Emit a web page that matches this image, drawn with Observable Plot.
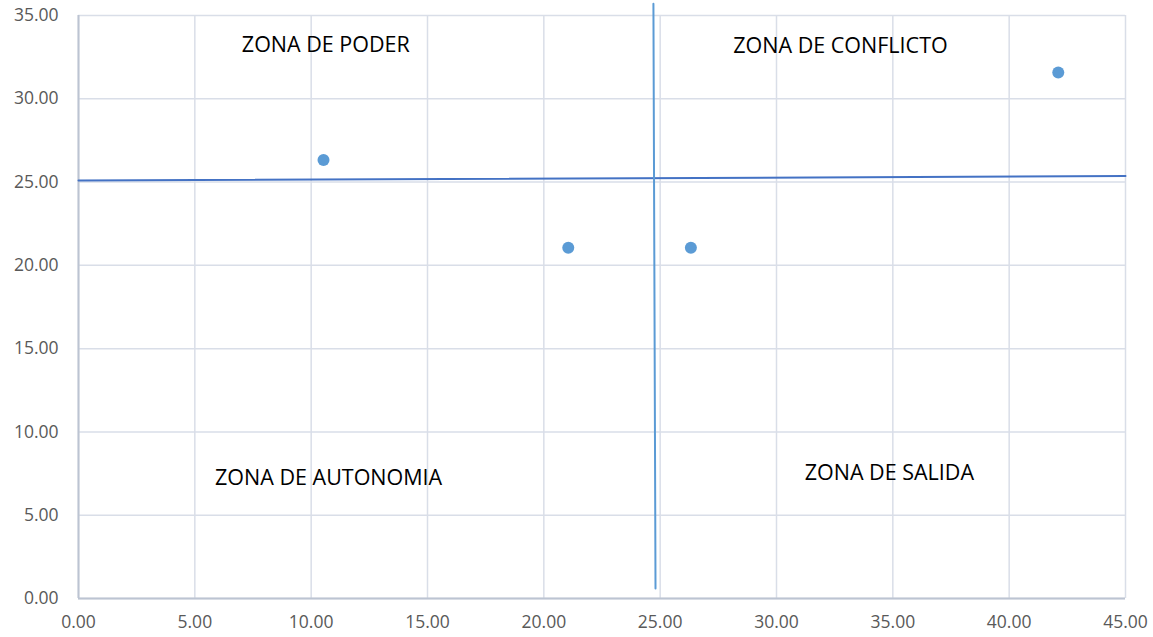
<!DOCTYPE html>
<html><head><meta charset="utf-8">
<script src="https://cdn.jsdelivr.net/npm/d3@7"></script>
<script src="https://cdn.jsdelivr.net/npm/@observablehq/plot@0.6"></script>
<style>body{margin:0;background:#fff}</style>
</head><body><div id="chart"></div>
<script>
const xs = [10.53, 21.05, 26.32, 42.11];
const ys = [26.32, 21.05, 21.05, 31.58];
const hLineX = [0, 45];
const hLineY = [25.09, 25.36];
const vLineX = [24.71, 24.80];
const vLineY = [35.7, 0.6];
const zoneLabels = ["ZONA DE PODER", "ZONA DE CONFLICTO", "ZONA DE AUTONOMIA", "ZONA DE SALIDA"];
const zoneX = [10.63, 32.75, 10.75, 34.85];
const zoneY = [33.25, 33.15, 7.2, 7.5];
const xTicks = [0,5,10,15,20,25,30,35,40,45];
const yTicks = [0,5,10,15,20,25,30,35];

const pts = xs.map((x,i)=>({x, y: ys[i]}));
const hl = hLineX.map((x,i)=>({x, y: hLineY[i]}));
const vl = vLineX.map((x,i)=>({x, y: vLineY[i]}));
const zones = zoneLabels.map((t,i)=>({t, x: zoneX[i], y: zoneY[i]}));
const fmt = d3.format(".2f");

const chart = Plot.plot({
  width: 1153, height: 637,
  marginLeft: 78, marginRight: 28, marginTop: 15, marginBottom: 39,
  style: {fontFamily: "'Open Sans', sans-serif", fontSize: "17px", color: "#595959", background: "#fff"},
  x: {domain: [0,45], label: null},
  y: {domain: [0,35], label: null},
  marks: [
    Plot.gridX(xTicks, {stroke: "#D9DEE8", strokeOpacity: 1, strokeWidth: 1.5}),
    Plot.gridY(yTicks, {stroke: "#D9DEE8", strokeOpacity: 1, strokeWidth: 1.5}),
    Plot.axisX(xTicks, {tickSize: 0, tickPadding: 17, tickFormat: fmt, fontSize: 17.5, fill: "#595959", label: null}),
    Plot.axisY(yTicks, {tickSize: 0, tickPadding: 20, tickFormat: fmt, fontSize: 17.5, fill: "#595959", label: null}),
    Plot.ruleY([0], {stroke: "#BCC4D2", strokeWidth: 2}),
    Plot.ruleX([0], {stroke: "#BCC4D2", strokeWidth: 2}),
    Plot.line(hl, {x: "x", y: "y", stroke: "#4472C4", strokeWidth: 2}),
    Plot.line(vl, {x: "x", y: "y", stroke: "#5B9BD5", strokeWidth: 2}),
    Plot.dot(pts, {x: "x", y: "y", r: 6, fill: "#5B9BD5", stroke: "none"}),
    Plot.text(zones, {x: "x", y: "y", text: "t", fontSize: 21.5, fill: "#000", fontFamily: "'Open Sans', sans-serif"})
  ]
});
document.getElementById("chart").appendChild(chart);
</script></body></html>
